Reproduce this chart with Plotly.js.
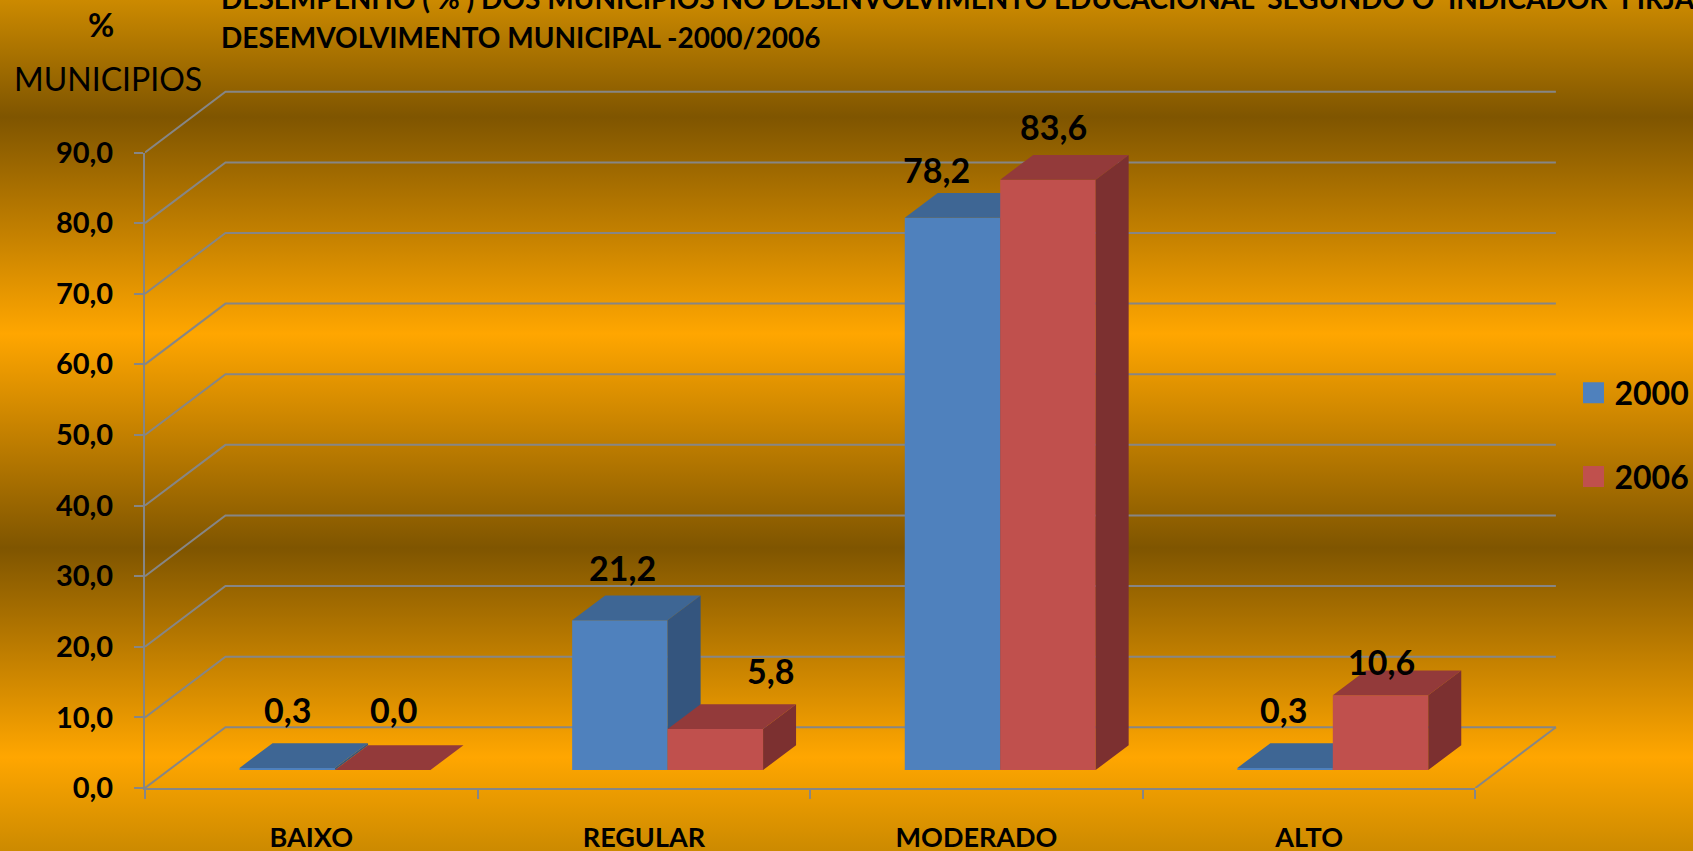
<!DOCTYPE html>
<html>
<head>
<meta charset="utf-8">
<script src="https://cdn.plot.ly/plotly-3.0.1.min.js"></script>
<style>
html,body{margin:0;padding:0;width:1693px;height:851px;overflow:hidden;
background:linear-gradient(to bottom,#cc8a00 0px,#7f5500 117px,#ffa600 334px,#7f5500 548px,#ffa600 757px,#cc8a00 851px);}
#chart{width:1693px;height:851px;}
.legend .legendpoints path{transform:translate(19px,0) scale(1.75);}
</style>
</head>
<body>
<div id="chart"></div>
<script>
// ---- data ----
var categories = ["BAIXO", "REGULAR", "MODERADO", "ALTO"];
var values2000 = [0.3, 21.2, 78.2, 0.3];
var values2006 = [0.0, 5.8, 83.6, 10.6];
var seriesNames = ["2000", "2006"];
var yTicks = [0, 10, 20, 30, 40, 50, 60, 70, 80, 90];
var titleLine1 = "DESEMPENHO ( % ) DOS MUNICIPIOS NO DESENVOLVIMENTO EDUCACIONAL\u00a0 SEGUNDO O\u00a0 INDICADOR\u00a0 FIRJAN";
var titleLine2 = "DESEMVOLVIMENTO MUNICIPAL -2000/2006";

// ---- label nudges in px (x, up) from the front-top centre of each bar ----
var nudge2000 = [[0, 58], [3, 53], [-16, 48], [-2, 58]];
var nudge2006 = [[11, 60], [55, 59], [6, 53], [1, 34]];

// ---- pseudo-3D geometry in axis units ----
var BAR_OFFSET = 0.0713, BAR_W = 0.287, BAR_DX = 0.0992, BAR_DY = 3.5, FLOOR = 2.55;
var WALL_DX = 0.242, WALL_DY = 8.6;
var X0 = -0.5, X1 = 3.5;
var FONT = "Lato, Carlito, 'Open Sans', sans-serif";
var GRID = "#868686";
var xIdx = categories.map(function (c, i) { return i; });

// ---- plot frame ----
var FRAME_L = 145, FRAME_B = 788, FRAME_W = 1415, FRAME_H = 700;
var PX_PER_CAT = 332.6, PX_PER_UNIT = 7.061;
function paperX(p) { return (p - FRAME_L) / FRAME_W; }
function paperY(p) { return (FRAME_B - p) / FRAME_H; }

function faces(values, left) {
  var side = {x: [], y: []}, top = {x: [], y: []};
  values.forEach(function (v, i) {
    var xl = i + left, xr = xl + BAR_W, b = FLOOR, t = FLOOR + v;
    if (side.x.length) { side.x.push(null); side.y.push(null); top.x.push(null); top.y.push(null); }
    side.x.push(xr, xr + BAR_DX, xr + BAR_DX, xr, xr);
    side.y.push(b, b + BAR_DY, t + BAR_DY, t, b);
    top.x.push(xl, xl + BAR_DX, xr + BAR_DX, xr, xl);
    top.y.push(t, t + BAR_DY, t + BAR_DY, t, t);
  });
  return {side: side, top: top};
}
function poly(f, color, xa, ya) {
  return {type: "scatter", mode: "lines", x: f.x, y: f.y, fill: "toself", fillcolor: color,
    line: {width: 0, color: color}, hoverinfo: "skip", showlegend: false, xaxis: xa, yaxis: ya};
}
function front(values, left, name, color, xa, ya) {
  return {type: "bar", name: name, x: xIdx.map(function (i) { return i + left + BAR_W / 2; }), y: values,
    base: values.map(function () { return FLOOR; }), width: BAR_W, marker: {color: color, line: {width: 0}},
    xaxis: xa, yaxis: ya, legendgroup: name};
}

var LEFT_A = BAR_OFFSET - BAR_W, LEFT_B = BAR_OFFSET;
var fa = faces(values2000, LEFT_A), fb = faces(values2006, LEFT_B);

// back wall + side wall gridlines
var wx = [], wy = [];
yTicks.forEach(function (v) {
  wx.push(X0, X0 + WALL_DX, X1 + WALL_DX, null);
  wy.push(v, v + WALL_DY, v + WALL_DY, null);
});
wx.push(X1, X1 + WALL_DX); wy.push(0, WALL_DY);

var traces = [
  {type: "scatter", mode: "lines", x: wx, y: wy, line: {color: GRID, width: 2},
   hoverinfo: "skip", showlegend: false, xaxis: "x", yaxis: "y"},
  front(values2000, LEFT_A, seriesNames[0], "#4f81bd", "x2", "y2"),
  poly(fa.side, "#34557e", "x2", "y2"),
  poly(fa.top, "#3e6694", "x2", "y2"),
  front(values2006, LEFT_B, seriesNames[1], "#c0504d", "x3", "y3"),
  poly(fb.side, "#7c3030", "x3", "y3"),
  poly(fb.top, "#933a3a", "x3", "y3")
];

function fmt(v) { return v.toFixed(1).replace(".", ","); }
function labels(values, left, nudge) {
  return values.map(function (v, i) {
    return {xref: "x2", yref: "y2", x: i + left + BAR_W / 2, y: FLOOR + v, text: fmt(v), showarrow: false,
      xanchor: "center", yanchor: "middle", xshift: nudge[i][0], yshift: nudge[i][1],
      font: {family: FONT, size: 34, color: "#000", weight: 700}};
  });
}
var annotations = labels(values2000, LEFT_A, nudge2000).concat(labels(values2006, LEFT_B, nudge2006));
annotations.push(
  {xref: "paper", yref: "paper", x: paperX(100.5), y: paperY(24.5), text: "%", showarrow: false, xanchor: "center", yanchor: "middle",
   font: {family: FONT, size: 32, color: "#000", weight: 700}},
  {xref: "paper", yref: "paper", x: paperX(108), y: paperY(78), text: "MUNICIPIOS", showarrow: false, xanchor: "center", yanchor: "middle",
   font: {family: FONT, size: 32, color: "#000", weight: 400}}
);

var xDomain = [0, 4 * PX_PER_CAT / FRAME_W], yDomain = [0, 90 * PX_PER_UNIT / FRAME_H];

var layout = {
  width: 1693, height: 851,
  margin: {l: FRAME_L, r: 1693 - FRAME_L - FRAME_W, t: FRAME_B - FRAME_H, b: 851 - FRAME_B, pad: 0, autoexpand: false},
  paper_bgcolor: "rgba(0,0,0,0)", plot_bgcolor: "rgba(0,0,0,0)",
  separators: ",.",
  barmode: "overlay",
  font: {family: FONT, color: "#000"},
  title: {
    text: '<span style="font-size:28px">' + titleLine1 + '<br>' + titleLine2 + '</span>',
    font: {family: FONT, size: 30, color: "#000", weight: 700},
    xref: "container", yref: "container", x: 221 / 1693, xanchor: "left", y: 1, yanchor: "top", pad: {t: 8.7, b: 0, l: 0, r: 0}
  },
  // wall axes: span the whole frame, same scale as the value axes
  xaxis: {domain: [0, 1], range: [X0, X0 + FRAME_W / PX_PER_CAT], visible: false, fixedrange: true},
  yaxis: {domain: [0, 1], range: [0, FRAME_H / PX_PER_UNIT], visible: false, fixedrange: true},
  xaxis2: {
    domain: xDomain, anchor: "y2",
    type: "linear", range: [X0, X1], tickmode: "array", tickvals: xIdx, ticktext: categories,
    ticks: "", showgrid: false, zeroline: false, showline: true, linecolor: GRID, linewidth: 2,
    tickfont: {family: FONT, size: 27, color: "#000", weight: 700}, ticklabelstandoff: 25,
    minor: {tickmode: "array", tickvals: [-0.5, 0.5, 1.5, 2.5, 3.5], ticks: "outside", ticklen: 9, tickwidth: 2, tickcolor: GRID, showgrid: false},
    fixedrange: true
  },
  yaxis2: {
    domain: yDomain, anchor: "x2",
    range: [0, 90], tickmode: "array", tickvals: yTicks, tickformat: ".1f", ticks: "outside", ticklen: 9, tickwidth: 2, tickcolor: GRID,
    showgrid: false, zeroline: false, showline: true, linecolor: GRID, linewidth: 2,
    tickfont: {family: FONT, size: 29, color: "#000", weight: 700}, ticklabelstandoff: 15, fixedrange: true
  },
  xaxis3: {overlaying: "x2", range: [X0, X1], visible: false, fixedrange: true},
  yaxis3: {overlaying: "y2", range: [0, 90], visible: false, fixedrange: true},
  showlegend: true,
  legend: {
    x: paperX(1574.5), xanchor: "left", y: paperY(365.5), yanchor: "top",
    bgcolor: "rgba(0,0,0,0)", borderwidth: 0, traceorder: "grouped", tracegroupgap: 39,
    font: {family: FONT, size: 32, color: "#000", weight: 700}, itemsizing: "trace", itemclick: false, itemdoubleclick: false
  },
  annotations: annotations
};
Plotly.newPlot("chart", traces, layout, {displayModeBar: false, responsive: false});
</script>
</body>
</html>
